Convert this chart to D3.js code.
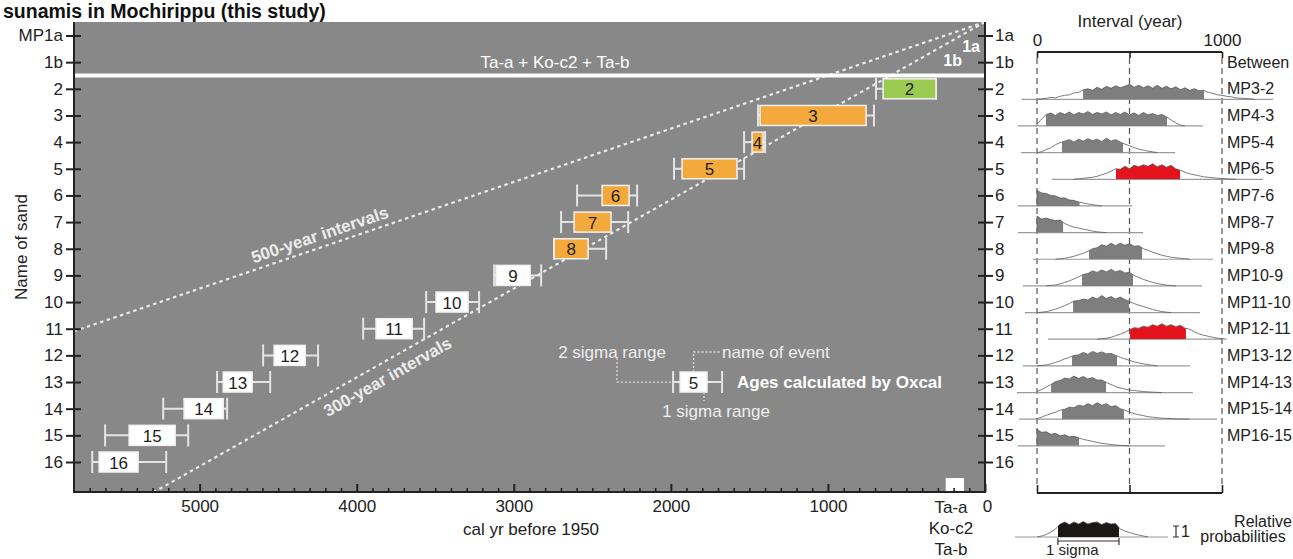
<!DOCTYPE html>
<html><head><meta charset="utf-8">
<script src="https://cdn.jsdelivr.net/npm/d3@7"></script>
<style>
html,body{margin:0;padding:0;background:#fff;}
svg{display:block;font-family:"Liberation Sans",Arial,Helvetica,sans-serif;}
</style></head><body>
<svg id="chart" width="1293" height="559"></svg>
<script>
// ---------------- data ----------------
const leftRowLabels  = ["MP1a","1b","2","3","4","5","6","7","8","9","10","11","12","13","14","15","16"];
const rightRowLabels = ["1a","1b","2","3","4","5","6","7","8","9","10","11","12","13","14","15","16"];
const yearTicks = [0,1000,2000,3000,4000,5000];

// modelled event ages (cal yr BP)
const eventNames    = ["2","3","4","5","6","7","8","9","10","11","12","13","14","15","16"];
const eventRows     = [2,3,4,5,6,7,8,9,10,11,12,13,14,15,16];
const eventType     = ["a","b","b","b","b","b","b","c","c","c","c","c","c","c","c"];
const sigma1Older   = [649,1432,1483,1929,2438,2616,2743,3113,3495,3877,4526,4850,5099,5449,5640];
const sigma1Younger = [312,757,1413,1579,2266,2381,2527,2896,3291,3647,4328,4666,4850,5156,5392];
const sigma2Older   = [694,1445,1534,1980,2597,2699,2743,3125,3558,3959,4596,4889,5232,5602,5684];
const sigma2Younger = [312,707,1400,1534,2215,2272,2412,2826,3221,3571,4246,4551,4825,5073,5213];

// recurrence guides
const guideIntervals = [500,300];
const guideLabels    = ["500-year intervals","300-year intervals"];

// key example
const keyName = "5";
const keySigma1 = [1941,1770];
const keySigma2 = [1986,1674];

// tephra marker
const tephraRange = [250,134];

// interval probability distributions (25-year steps)
const pairNames  = ["MP3-2","MP4-3","MP5-4","MP6-5","MP7-6","MP8-7","MP9-8","MP10-9","MP11-10","MP12-11","MP13-12","MP14-13","MP15-14","MP16-15"];
const pairRows   = [2,3,4,5,6,7,8,9,10,11,12,13,14,15];
const pairFlag   = [false,false,false,true,false,false,false,false,false,true,false,false,false,false];
const pairStart  = [0,0,0,200,0,0,100,50,0,325,0,0,0,0];
const pairSigLo  = [249,49,135,427,0,0,281,243,195,503,189,76,135,0];
const pairSigHi  = [903,703,465,773,230,141,568,519,497,805,432,373,470,227];
const pairSpanLo = [-81,-103,-86,81,-103,-103,-22,-76,-65,59,-76,-108,-97,-103];
const pairSpanHi = [1276,897,746,1222,514,573,951,892,881,995,827,843,973,692];
const pairDensity = [
  [0,0.05,0.1,0.2,0.15,0.3,0.4,0.45,0.65,0.7,0.95,1.05,0.9,1.2,1.0,1.3,1.1,1.35,1.15,1.3,1.5,1.2,1.4,1.15,1.35,1.1,1.4,1.1,1.3,1.05,1.25,0.95,1.15,0.9,1.05,0.85,0.9,0.7,0.6,0.45,0.4,0.3,0.25,0.15,0.12,0.08,0.05,0],
  [0.2,0.7,1.15,1.3,1.05,1.35,1.15,1.4,1.1,1.35,1.2,1.45,1.15,1.35,1.2,1.4,1.1,1.35,1.15,1.4,1.1,1.3,1.05,1.35,1.1,1.25,1.05,1.15,0.9,0.6,0.3,0.1,0],
  [0,0.1,0.3,0.5,0.8,1.0,1.15,1.3,1.05,1.35,1.15,1.4,1.2,1.35,1.1,1.45,1.15,1.3,1.05,0.85,0.7,0.5,0.35,0.25,0.15,0.08,0],
  [0,0.05,0.1,0.15,0.2,0.3,0.45,0.6,0.8,1.05,1.0,1.3,1.05,1.4,1.25,1.45,1.3,1.55,1.25,1.45,1.2,1.4,1.05,0.9,0.7,0.55,0.45,0.35,0.25,0.2,0.15,0.1,0.07,0.04,0.02,0],
  [1.55,1.3,1.25,1.05,1.0,0.8,0.8,0.6,0.55,0.4,0.3,0.2,0.12,0.06,0],
  [1.65,1.35,1.45,1.3,1.2,1.25,0.9,0.7,0.55,0.45,0.35,0.25,0.15,0.08,0.03,0],
  [0,0.05,0.1,0.2,0.3,0.45,0.6,0.8,1.05,1.15,1.45,1.3,1.6,1.35,1.6,1.4,1.55,1.3,1.35,1.05,0.9,0.7,0.55,0.4,0.3,0.2,0.15,0.1,0.05,0],
  [0,0.05,0.1,0.2,0.35,0.5,0.7,0.9,1.15,1.25,1.5,1.35,1.6,1.4,1.65,1.4,1.55,1.3,1.35,1.05,0.85,0.65,0.5,0.35,0.25,0.15,0.08,0.04,0],
  [0,0.03,0.1,0.2,0.35,0.5,0.7,0.9,1.15,1.2,1.35,1.25,1.55,1.35,1.7,1.4,1.6,1.35,1.55,1.3,1.1,0.9,0.75,0.6,0.45,0.3,0.2,0.1,0.04,0],
  [0,0.05,0.1,0.2,0.35,0.5,0.7,0.95,1.15,1.1,1.3,1.2,1.45,1.3,1.55,1.3,1.45,1.25,1.4,1.1,1.0,0.75,0.55,0.4,0.3,0.2,0.1,0.05,0],
  [0,0.05,0.1,0.2,0.35,0.5,0.7,0.85,1.05,1.1,1.35,1.15,1.45,1.25,1.4,1.2,1.25,1.05,0.85,0.7,0.55,0.4,0.3,0.2,0.12,0.06,0],
  [0.1,0.3,0.55,0.8,1.1,1.2,1.45,1.35,1.65,1.4,1.6,1.35,1.5,1.25,1.25,1.0,0.8,0.6,0.45,0.35,0.25,0.2,0.15,0.1,0.07,0.04,0.02,0],
  [0.05,0.2,0.4,0.55,0.7,0.9,1.0,1.2,1.15,1.4,1.3,1.55,1.35,1.65,1.4,1.55,1.25,1.35,1.05,0.9,0.7,0.55,0.45,0.35,0.25,0.2,0.15,0.1,0.08,0.05,0.03,0.02,0.01,0],
  [1.65,1.35,1.4,1.15,1.25,1.0,1.1,0.9,0.95,0.8,0.65,0.55,0.45,0.35,0.25,0.2,0.12,0.08,0.05,0.03,0]
];
const densityStep = 25;

// key distribution
const keyDensity = [0,0.1,0.25,0.5,0.8,1.3,1.5,1.25,1.5,1.3,1.55,1.3,1.45,1.5,1.25,1.45,1.3,1.35,0.8,0.6,0.45,0.3,0.2,0.1,0];
const keySigma = [113,443];
const keySpan = [-119,708];

// ---------------- layout ----------------
const svg = d3.select("#chart");
const FONT = '"Liberation Sans",Arial,Helvetica,sans-serif';
const plotTop = 22, plotBottom = 492;

const x = d3.scaleLinear().domain([5800,0]).range([74,985]);
const rowY = d3.scaleLinear().domain([0,16]).range([35.5,462]);

const colors = {a:"#9bcb50", b:"#f4a93c", c:"#ffffff"};
const grey = "#888888";

// title
svg.append("text").attr("x",3).attr("y",18).attr("font-size",19.5).attr("font-weight","bold")
  .attr("fill","#111").text("sunamis in Mochirippu (this study)");

// plot background
svg.append("rect").attr("x",x(5800)).attr("y",plotTop).attr("width",x(0)-x(5800))
  .attr("height",plotBottom-plotTop).attr("fill",grey);

svg.append("clipPath").attr("id","plotClip").append("rect")
  .attr("x",x(5800)).attr("y",plotTop).attr("width",x(0)-x(5800)).attr("height",plotBottom-plotTop);

// recurrence guide lines, anchored at year 0 at the plot top
const r0 = rowY.invert(plotTop);
const guides = svg.append("g").attr("clip-path","url(#plotClip)");
guideIntervals.forEach((T,k)=>{
  guides.append("line")
    .attr("x1",x(0)).attr("y1",rowY(r0))
    .attr("x2",x(5800)).attr("y2",rowY(r0+5800/T))
    .attr("stroke","#e9e9e9").attr("stroke-width",2.2).attr("stroke-dasharray","3.5,3.5");
});
function guideLabel(k, year, off){
  const T = guideIntervals[k];
  const px = x(year), py = rowY(r0+year/T);
  const ang = Math.atan((rowY(r0+1)-rowY(r0))/(x(0)-x(T)))*180/Math.PI;
  svg.append("text").attr("transform",`translate(${px},${py}) rotate(${-ang}) translate(0,${off})`)
    .attr("text-anchor","middle").attr("dominant-baseline","central")
    .attr("font-size",17).attr("font-weight","bold").attr("fill","#ececec").text(guideLabels[k]);
}
guideLabel(0, 4210, -12);
guideLabel(1, 3850, 15);

// tephra horizon line
svg.append("line").attr("x1",x(5800)).attr("x2",x(0)).attr("y1",rowY(1.5)).attr("y2",rowY(1.5))
  .attr("stroke","#fff").attr("stroke-width",4);
svg.append("text").attr("x",555).attr("y",rowY(1)).attr("text-anchor","middle").attr("dominant-baseline","central")
  .attr("font-size",17).attr("fill","#fff").text("Ta-a + Ko-c2 + Ta-b");
svg.append("text").attr("x",980).attr("y",rowY(0.43)).attr("text-anchor","end").attr("dominant-baseline","central")
  .attr("font-size",16).attr("font-weight","bold").attr("fill","#fff").text("1a");
svg.append("text").attr("x",962).attr("y",rowY(0.93)).attr("text-anchor","end").attr("dominant-baseline","central")
  .attr("font-size",16).attr("font-weight","bold").attr("fill","#fff").text("1b");

// tephra marker at the base
svg.append("rect").attr("x",x(tephraRange[0])).attr("width",x(tephraRange[1])-x(tephraRange[0]))
  .attr("y",plotBottom-14).attr("height",14).attr("fill","#fff");

// event age boxes
function drawEvent(g, cy, s1, s2, name, fill){
  const cap = 11, half = 10;
  g.append("line").attr("x1",x(s2[0])).attr("x2",x(s2[1])).attr("y1",cy).attr("y2",cy)
    .attr("stroke","#e4e4e4").attr("stroke-width",2);
  [s2[0],s2[1]].forEach(v=>{
    g.append("line").attr("x1",x(v)).attr("x2",x(v)).attr("y1",cy-cap).attr("y2",cy+cap)
      .attr("stroke","#e4e4e4").attr("stroke-width",2);
  });
  g.append("rect").attr("x",x(s1[0])).attr("width",x(s1[1])-x(s1[0]))
    .attr("y",cy-half).attr("height",2*half).attr("fill",fill)
    .attr("stroke","#f2f2f2").attr("stroke-width",1.5);
  g.append("text").attr("x",(x(s1[0])+x(s1[1]))/2).attr("y",cy+1)
    .attr("text-anchor","middle").attr("dominant-baseline","central")
    .attr("font-size",17).attr("fill","#222").text(name);
}
const evG = svg.append("g");
eventNames.forEach((n,i)=>{
  drawEvent(evG, rowY(eventRows[i]), [sigma1Older[i],sigma1Younger[i]], [sigma2Older[i],sigma2Younger[i]], n, colors[eventType[i]]);
});

// key
const keyY = rowY(13);
drawEvent(svg.append("g"), keyY, keySigma1, keySigma2, keyName, "#fff");
const dot = {stroke:"#dcdcdc","stroke-width":1.3,"stroke-dasharray":"2,2",fill:"none"};
function dotted(d){ const p = svg.append("path").attr("d",d); Object.entries(dot).forEach(([k,v])=>p.attr(k,v)); }
dotted(`M${617},${358} V${keyY} H${x(keySigma2[0])}`);
dotted(`M${(x(keySigma1[0])+x(keySigma1[1]))/2},${keyY-10} V${352} H${720}`);
dotted(`M${704},${keyY+10} V${401}`);
svg.append("text").attr("x",612).attr("y",352).attr("text-anchor","middle").attr("dominant-baseline","central")
  .attr("font-size",17).attr("fill","#eee").text("2 sigma range");
svg.append("text").attr("x",722).attr("y",352).attr("dominant-baseline","central")
  .attr("font-size",17).attr("fill","#eee").text("name of event");
svg.append("text").attr("x",716).attr("y",411).attr("text-anchor","middle").attr("dominant-baseline","central")
  .attr("font-size",17).attr("fill","#eee").text("1 sigma range");
svg.append("text").attr("x",737).attr("y",keyY).attr("dominant-baseline","central")
  .attr("font-size",17).attr("font-weight","bold").attr("fill","#fff").text("Ages calculated by Oxcal");

// axes
function styleAxis(g, size){
  g.select(".domain").remove();
  g.selectAll("text").attr("font-size",size).attr("font-family",FONT).attr("fill","#222");
  g.selectAll("line").attr("stroke","#222").attr("stroke-width",2);
}
const gl = svg.append("g").attr("transform",`translate(${x(5800)},0)`)
  .call(d3.axisLeft(rowY).tickValues(d3.range(17)).tickFormat(i=>leftRowLabels[i]).tickSize(8).tickPadding(3));
styleAxis(gl,17); gl.selectAll(".tick line").attr("x1",7);

const gr = svg.append("g").attr("transform",`translate(${x(0)},0)`)
  .call(d3.axisRight(rowY).tickValues(d3.range(17)).tickFormat(i=>rightRowLabels[i]).tickSize(8).tickPadding(2));
styleAxis(gr,17); gr.selectAll(".tick line").attr("x1",-7);

const minorYears = d3.range(100,5800,100).filter(v=>v%1000!==0);
const gbm = svg.append("g").attr("transform",`translate(0,${plotBottom})`)
  .call(d3.axisBottom(x).tickValues(minorYears).tickSize(-4).tickFormat(""));
styleAxis(gbm,17); gbm.selectAll("line").attr("stroke-width",1.6);
const gb = svg.append("g").attr("transform",`translate(0,${plotBottom})`)
  .call(d3.axisBottom(x).tickValues(yearTicks).tickSize(-8).tickPadding(8).tickFormat(d3.format("d")));
styleAxis(gb,17);
gb.selectAll(".tick").filter(d=>d===0).select("text").attr("dx",2);

svg.append("path").attr("d",`M${x(5800)},${plotTop} V${plotBottom} H${x(0)} V${plotTop}`)
  .attr("fill","none").attr("stroke","#222").attr("stroke-width",2);

svg.append("text").attr("transform",`translate(21,247) rotate(-90)`).attr("text-anchor","middle")
  .attr("dominant-baseline","central").attr("font-size",17).attr("fill","#222").text("Name of sand");
svg.append("text").attr("x",531).attr("y",535).attr("text-anchor","middle")
  .attr("font-size",17).attr("fill","#222").text("cal yr before 1950");
[["Ta-a",513],["Ko-c2",534],["Ta-b",555]].forEach(([t,yy])=>{
  svg.append("text").attr("x",951).attr("y",yy).attr("text-anchor","middle")
    .attr("font-size",17).attr("fill","#222").text(t);
});

// ---------------- interval panel ----------------
const ix = d3.scaleLinear().domain([0,1000]).range([1037,1222]);
const dh = d3.scaleLinear().domain([0,1]).range([0,10]);

svg.append("text").attr("x",1130).attr("y",27).attr("text-anchor","middle")
  .attr("font-size",17).attr("fill","#222").text("Interval (year)");
const gt = svg.append("g").attr("transform","translate(0,52)")
  .call(d3.axisTop(ix).tickValues([0,500,1000]).tickSize(-6).tickPadding(6).tickFormat(d=>d===500?"":d));
styleAxis(gt,17);
gt.selectAll("line").attr("stroke-width",1.6);
svg.append("line").attr("x1",ix(0)).attr("x2",ix(1000)).attr("y1",52).attr("y2",52).attr("stroke","#222").attr("stroke-width",1.8);
const gbt = svg.append("g").attr("transform","translate(0,493)")
  .call(d3.axisBottom(ix).tickValues([0,500,1000]).tickSize(-8).tickFormat(""));
styleAxis(gbt,17);
gbt.selectAll("line").attr("stroke-width",1.6);
svg.append("line").attr("x1",ix(0)).attr("x2",ix(1000)).attr("y1",493).attr("y2",493).attr("stroke","#222").attr("stroke-width",1.8);

[0,500,1000].forEach(v=>{
  svg.append("line").attr("x1",ix(v)).attr("x2",ix(v)).attr("y1",58).attr("y2",486)
    .attr("stroke","#555").attr("stroke-width",1.2).attr("stroke-dasharray","6,4");
});

svg.append("text").attr("x",1227).attr("y",rowY(1)).attr("dominant-baseline","central")
  .attr("font-size",16).attr("fill","#222").text("Between");

function drawDensity(id, baseY, start, vals, sig, span, fill){
  const g = svg.append("g").attr("transform",`translate(0,${baseY})`);
  const pts = vals.map((v,i)=>[start+i*densityStep, v]);
  g.append("line").attr("x1",ix(span[0])).attr("x2",ix(span[1])).attr("y1",0).attr("y2",0)
    .attr("stroke","#9a9a9a").attr("stroke-width",1.2);
  g.append("clipPath").attr("id",id).append("rect")
    .attr("x",ix(sig[0])).attr("width",ix(sig[1])-ix(sig[0])).attr("y",-40).attr("height",40);
  const area = d3.area().x(d=>ix(d[0])).y0(0).y1(d=>-dh(d[1]));
  g.append("path").attr("d",area(pts)).attr("fill",fill).attr("clip-path",`url(#${id})`);
  const line = d3.line().x(d=>ix(d[0])).y(d=>-dh(d[1]));
  g.append("path").attr("d",line([[pts[0][0],0]].concat(pts))).attr("fill","none")
    .attr("stroke","#5a5a5a").attr("stroke-width",0.8);
}

pairNames.forEach((n,i)=>{
  const by = rowY(pairRows[i])+10.5;
  drawDensity("dc"+i, by, pairStart[i], pairDensity[i], [pairSigLo[i],pairSigHi[i]],
    [pairSpanLo[i],pairSpanHi[i]], pairFlag[i] ? "#e5141c" : "#7e7e7e");
  svg.append("text").attr("x",1227).attr("y",rowY(pairRows[i])).attr("dominant-baseline","central")
    .attr("font-size",16).attr("fill","#222").text(n);
});

// key for the interval panel
drawDensity("dkey", 537, 0, keyDensity, keySigma, keySpan, "#1c1714");
svg.append("path").attr("d",`M${ix(keySigma[0])},${538} V${545} M${ix(keySigma[0])},${541} H${ix(keySigma[1])} M${ix(keySigma[1])},${538} V${545}`)
  .attr("fill","none").attr("stroke","#333").attr("stroke-width",1.2);
svg.append("text").attr("x",1046).attr("y",555).attr("font-size",15).attr("fill","#222").text("1 sigma");
svg.append("path").attr("d","M1173,526 H1179 M1176,526 V537 M1173,537 H1179")
  .attr("fill","none").attr("stroke","#333").attr("stroke-width",1.2);
svg.append("text").attr("x",1181).attr("y",537).attr("font-size",16).attr("fill","#222").text("1");
svg.append("text").attr("x",1263).attr("y",527).attr("text-anchor","middle").attr("font-size",16).attr("fill","#222").text("Relative");
svg.append("text").attr("x",1243).attr("y",542).attr("text-anchor","middle").attr("font-size",16).attr("fill","#222").text("probabilities");
</script>
</body></html>
